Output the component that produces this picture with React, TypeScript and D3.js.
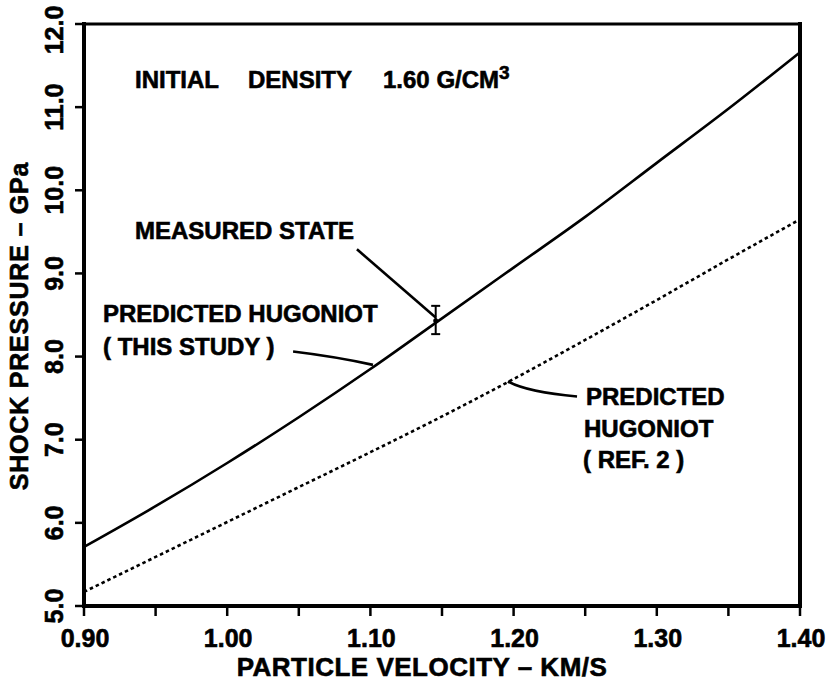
import React from "react";
import * as d3 from "d3";

// ---- data ----
const velocity = [0.9, 0.95, 1.0, 1.05, 1.1, 1.15, 1.2, 1.25, 1.3, 1.35, 1.4];
const hugoniotThisStudy = [5.71, 6.2, 6.72, 7.27, 7.85, 8.46, 9.07, 9.68, 10.33, 10.98, 11.66];
const hugoniotRef2 = [5.17, 5.59, 6.01, 6.43, 6.85, 7.28, 7.73, 8.2, 8.68, 9.17, 9.65];
const measuredState = [1.1456, 8.43]; // [velocity, pressure]
const measuredRange = [8.27, 8.61];
const xTickValues = [0.9, 0.95, 1.0, 1.05, 1.1, 1.15, 1.2, 1.25, 1.3, 1.35, 1.4];
const xTickLabels = ["0.90", "1.00", "1.10", "1.20", "1.30", "1.40"];
const yTickLabels = ["5.0", "6.0", "7.0", "8.0", "9.0", "10.0", "11.0", "12.0"];
// leader lines in data coordinates: [start, control, end]
const leaderMeasured = [[1.0906, 9.29], [1.118, 8.88], [1.1456, 8.47]];
const leaderThisStudy = [[1.046, 8.06], [1.075, 8.0], [1.1018, 7.9]];
const leaderRef2 = [[1.2443, 7.52], [1.21, 7.57], [1.196, 7.7]];

const FONT = "'Liberation Sans', Arial, Helvetica, sans-serif";

export default function App() {
  const W = 835, H = 686;
  const left = 84, right = 800, top = 24, bottom = 606;
  const x = d3.scaleLinear().domain([0.9, 1.4]).range([left, right]);
  const y = d3.scaleLinear().domain([5, 12]).range([bottom, top]);

  const line = d3
    .line<number>()
    .x((_, i) => x(velocity[i]))
    .y((d) => y(d))
    .curve(d3.curveMonotoneX);

  const quad = (pts: number[][]) => {
    const p = d3.path();
    p.moveTo(x(pts[0][0]), y(pts[0][1]));
    p.quadraticCurveTo(x(pts[1][0]), y(pts[1][1]), x(pts[2][0]), y(pts[2][1]));
    return p.toString();
  };

  const labelStyle = {
    fontFamily: FONT,
    fontWeight: 700,
    fontSize: 24,
    fill: "#000",
    stroke: "#000",
    strokeWidth: 0.6,
  } as const;
  const mx = x(measuredState[0]);

  return (
    <svg
      width={W}
      height={H}
      style={{ position: "absolute", left: 0, top: 0, background: "#fff" }}
    >
      <rect x={0} y={0} width={W} height={H} fill="#fff" />
      {/* curves */}
      <path d={line(hugoniotThisStudy) || ""} fill="none" stroke="#000" strokeWidth={2.6} />
      <path
        d={line(hugoniotRef2) || ""}
        fill="none"
        stroke="#000"
        strokeWidth={2.6}
        strokeDasharray="3.5 3"
      />
      {/* measured state with error bar */}
      <g stroke="#000" strokeWidth={2}>
        <line x1={mx} x2={mx} y1={y(measuredRange[0])} y2={y(measuredRange[1])} />
        <line x1={mx - 4.5} x2={mx + 4.5} y1={y(measuredRange[0])} y2={y(measuredRange[0])} />
        <line x1={mx - 4.5} x2={mx + 4.5} y1={y(measuredRange[1])} y2={y(measuredRange[1])} />
      </g>
      <circle cx={mx} cy={y(measuredState[1])} r={2.5} fill="#000" />
      {/* leaders */}
      <g fill="none" stroke="#000" strokeWidth={2.6}>
        <path d={quad(leaderMeasured)} />
        <path d={quad(leaderThisStudy)} />
        <path d={quad(leaderRef2)} />
      </g>
      {/* frame */}
      <g stroke="#000" strokeLinecap="square">
        <line x1={left} x2={right} y1={top} y2={top} strokeWidth={3} />
        <line x1={right} x2={right} y1={top} y2={bottom} strokeWidth={4} />
        <line x1={left} x2={right} y1={bottom} y2={bottom} strokeWidth={4} />
        <line x1={left} x2={left} y1={top} y2={bottom} strokeWidth={4} />
      </g>
      {/* x ticks */}
      <g stroke="#000" strokeWidth={2.5}>
        {xTickValues.map((v) => (
          <line key={v} x1={x(v)} x2={x(v)} y1={bottom} y2={bottom + 10} />
        ))}
      </g>
      <g style={{ ...labelStyle, fontSize: 25 }} textAnchor="middle">
        {xTickLabels.map((t) => (
          <text key={t} x={x(+t) + 1} y={647}>
            {t}
          </text>
        ))}
      </g>
      {/* y ticks */}
      <g stroke="#000" strokeWidth={2.5}>
        {yTickLabels.map((t) => (
          <line key={t} x1={left - 9} x2={left} y1={y(+t)} y2={y(+t)} />
        ))}
      </g>
      <g style={{ ...labelStyle, fontSize: 25 }} textAnchor="middle">
        {yTickLabels.map((t) => {
          const cy = +t === 12 ? y(+t) + 6 : y(+t);
          return (
            <text key={t} transform={`translate(63,${cy}) rotate(-90)`}>
              {t}
            </text>
          );
        })}
      </g>
      {/* axis titles */}
      <text x={422} y={676} textAnchor="middle" style={{ ...labelStyle, fontSize: 26 }} letterSpacing={0.5}>
        PARTICLE VELOCITY – KM/S
      </text>
      <text
        transform="translate(28,326) rotate(-90)"
        textAnchor="middle"
        style={{ ...labelStyle, fontSize: 25 }}
        letterSpacing={0.8}
      >
        SHOCK PRESSURE – GPa
      </text>
      {/* annotations */}
      <text style={labelStyle} y={88}>
        <tspan x={135}>INITIAL</tspan>
        <tspan x={248}>DENSITY</tspan>
        <tspan x={383}>1.60 G/CM</tspan>
        <tspan dy={-9} style={{ fontSize: 19 }}>3</tspan>
      </text>
      <text style={labelStyle} x={135} y={239}>MEASURED STATE</text>
      <text style={labelStyle} x={103} y={322}>PREDICTED HUGONIOT</text>
      <text style={labelStyle} x={103} y={355}>( THIS STUDY )</text>
      <text style={labelStyle} x={586} y={405}>PREDICTED</text>
      <text style={labelStyle} x={584} y={437}>HUGONIOT</text>
      <text style={labelStyle} x={583} y={468}>( REF. 2 )</text>
    </svg>
  );
}
